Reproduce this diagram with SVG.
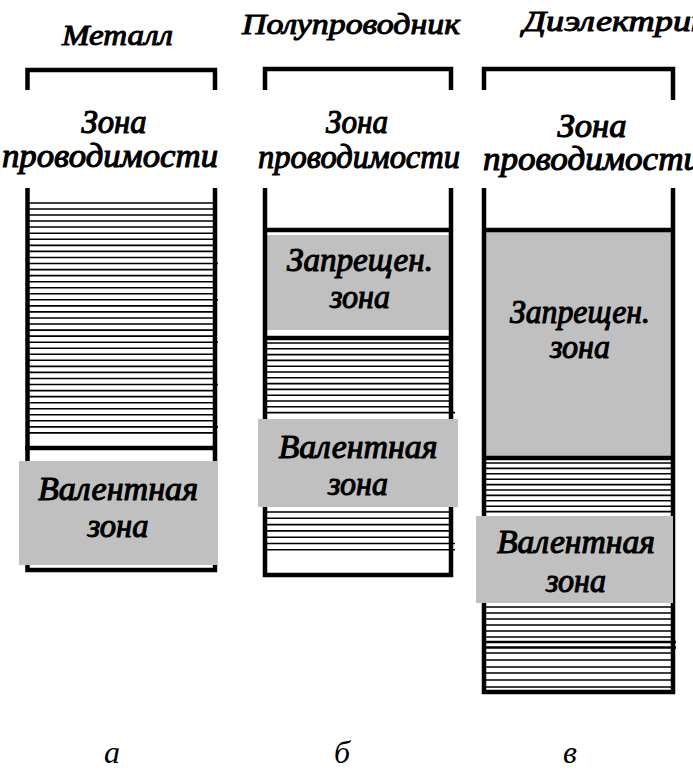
<svg xmlns="http://www.w3.org/2000/svg" width="693" height="779" viewBox="0 0 693 779">
<style>
.frame{fill:none;stroke:#000;stroke-width:4.5}
.thick{stroke:#000;stroke-width:4.5}
.lines{fill:none;stroke:#000;stroke-width:1.6}
.gray{fill:#c0c0c0}
.t{font-family:"Liberation Serif",serif;font-style:italic;font-weight:normal;text-anchor:middle;fill:#000;stroke:#000;stroke-width:1.1;stroke-linejoin:round}
.title{font-size:29px;stroke-width:1}
.zl{font-size:33px}
.lab{font-family:"Liberation Serif",serif;font-style:italic;font-size:32px;text-anchor:middle;fill:#000}
</style>
<rect width="693" height="779" fill="#fff"/>

<g id="metal">
  <text class="t title" x="117.5" y="45" textLength="111" lengthAdjust="spacingAndGlyphs">Металл</text>
  <path class="frame" d="M27.5 90V70H215V90"/>
  <text class="t zl" x="114" y="133" textLength="65" lengthAdjust="spacingAndGlyphs">Зона</text>
  <text class="t zl" x="110" y="167" textLength="216" lengthAdjust="spacingAndGlyphs">проводимости</text>
  <path class="lines" d="M29 203H213M29 209H213M29 215H213M29 221H213M29 227H213M29 233.3H213M29 239.3H213M29 245.4H213M29 251.4H213M29 257.5H213M29 263.5H218M29 269.6H213M29 275.6H213M29 281.7H213M29 287.7H213M29 293.8H213M29 299.8H218M29 305.9H213M29 311.9H213M29 318H213M29 324H213M29 330.1H213M29 336.1H213M29 342.2H218M29 348.2H213M29 354.3H213M29 360.3H213M29 366.4H213M29 372.4H213M29 378.5H213M29 384.5H218M29 390.6H213M29 396.6H213M29 402.7H213M29 408.7H213M29 414.8H213M29 420.8H213M29 426.9H218M29 432.9H213"/>
  <path class="frame" d="M27.5 188V570H215V188"/>
  <line class="thick" x1="25" y1="448" x2="217" y2="448"/>
  <rect class="gray" x="19" y="461" width="199" height="104"/>
  <text class="t zl" x="118" y="500" textLength="160" lengthAdjust="spacingAndGlyphs">Валентная</text>
  <text class="t zl" x="118" y="537" textLength="61" lengthAdjust="spacingAndGlyphs">зона</text>
</g>

<g id="semiconductor">
  <text class="t title" x="351" y="34" textLength="218" lengthAdjust="spacingAndGlyphs">Полупроводник</text>
  <path class="frame" d="M265 90V69H451V90"/>
  <text class="t zl" x="357" y="133" textLength="62" lengthAdjust="spacingAndGlyphs">Зона</text>
  <text class="t zl" x="359" y="168" textLength="202" lengthAdjust="spacingAndGlyphs">проводимости</text>
  <rect class="gray" x="267" y="235" width="186" height="95"/>
  <path class="lines" d="M267 343H449M267 348.8H449M267 354.6H449M267 360.4H449M267 366.2H449M267 372H449M267 377.8H449M267 383.6H449M267 389.4H449M267 395.2H449M267 401H449M267 406.8H449M267 412.6H455M267 512H449M267 518.3H449M267 524.6H449M267 530.9H449M267 537.2H449M267 543.5H455M267 549.8H455"/>
  <path class="frame" d="M265 188V575H451V188"/>
  <line class="thick" x1="263" y1="230" x2="453" y2="230"/>
  <line class="thick" x1="263" y1="338" x2="453" y2="338"/>
  <rect class="gray" x="258" y="419" width="200" height="88"/>
  <text class="t zl" x="360" y="271" textLength="146" lengthAdjust="spacingAndGlyphs">Запрещен.</text>
  <text class="t zl" x="360" y="308" textLength="60" lengthAdjust="spacingAndGlyphs">зона</text>
  <text class="t zl" x="358" y="458" textLength="159" lengthAdjust="spacingAndGlyphs">Валентная</text>
  <text class="t zl" x="358" y="495" textLength="60" lengthAdjust="spacingAndGlyphs">зона</text>
</g>

<g id="dielectric">
  <text class="t title" x="523" y="31" textLength="185" lengthAdjust="spacingAndGlyphs" style="text-anchor:start">Диэлектрик</text>
  <path class="frame" d="M484 90V69H673V100"/>
  <text class="t zl" x="592" y="137" textLength="69" lengthAdjust="spacingAndGlyphs">Зона</text>
  <text class="t zl" x="592" y="170" textLength="218" lengthAdjust="spacingAndGlyphs">проводимости</text>
  <rect class="gray" x="486" y="232" width="185" height="224"/>
  <path class="lines" d="M486 463H671M486 468.4H671M486 473.8H671M486 479.2H671M486 484.6H671M486 490H671M486 495.4H671M486 500.8H671M486 506.2H671M486 511.6H671M486 607H671M486 613H671M486 619H671M486 625H671M486 631H671M486 637H675M486 653H671M486 660H671M486 667H675M486 673H675M486 680H675M486 687H671"/>
  <path class="thick" d="M486 642H676M486 647.5H676" fill="none" style="stroke-width:2.5"/>
  <path class="frame" d="M484 188V692H673V188"/>
  <line class="thick" x1="482" y1="230" x2="675" y2="230"/>
  <line class="thick" x1="482" y1="458" x2="675" y2="458"/>
  <rect class="gray" x="476" y="516" width="197" height="87"/>
  <text class="t zl" x="580" y="323" textLength="140" lengthAdjust="spacingAndGlyphs">Запрещен.</text>
  <text class="t zl" x="580" y="358" textLength="60" lengthAdjust="spacingAndGlyphs">зона</text>
  <text class="t zl" x="576" y="553" textLength="158" lengthAdjust="spacingAndGlyphs">Валентная</text>
  <text class="t zl" x="576" y="592" textLength="60" lengthAdjust="spacingAndGlyphs">зона</text>
</g>

<g id="captions">
  <text class="lab" x="112" y="763">а</text>
  <text class="lab" x="342" y="763">б</text>
  <text class="lab" x="570" y="763">в</text>
</g>
<g id="connectors"/>
</svg>
